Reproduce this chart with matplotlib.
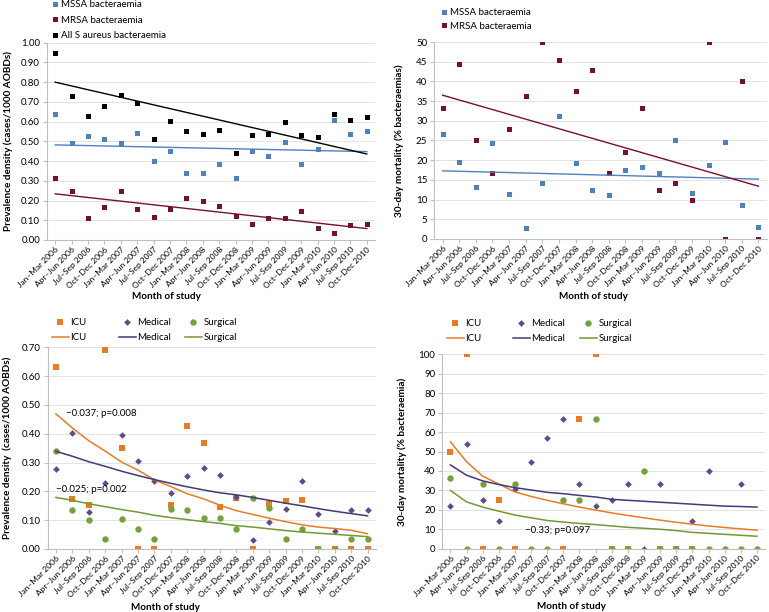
import matplotlib.pyplot as plt
import numpy as np

plt.rcParams['font.family'] = ['Lato', 'DejaVu Sans']

quarters = ['Jan–Mar 2006', 'Apr–Jun 2006', 'Jul–Sep 2006', 'Oct–Dec 2006',
            'Jan–Mar 2007', 'Apr–Jun 2007', 'Jul–Sep 2007', 'Oct–Dec 2007',
            'Jan–Mar 2008', 'Apr–Jun 2008', 'Jul–Sep 2008', 'Oct–Dec 2008',
            'Jan–Mar 2009', 'Apr–Jun 2009', 'Jul–Sep 2009', 'Oct–Dec 2009',
            'Jan–Mar 2010', 'Apr–Jun 2010', 'Jul–Sep 2010', 'Oct–Dec 2010']
x = np.arange(1, len(quarters) + 1)
nan = np.nan

# top left: prevalence density by organism
prev_mssa = [0.64, 0.49, 0.525, 0.51, 0.49, 0.54, 0.40, 0.45, 0.342, 0.339,
             0.386, 0.315, 0.45, 0.425, 0.495, 0.385, 0.463, 0.61, 0.535, 0.55]
prev_mrsa = [0.315, 0.246, 0.112, 0.168, 0.246, 0.158, 0.117, 0.158, 0.212, 0.198,
             0.173, 0.124, 0.083, 0.114, 0.110, 0.149, 0.059, 0.034, 0.076, 0.080]
prev_all = [0.95, 0.73, 0.63, 0.68, 0.735, 0.695, 0.513, 0.605, 0.552, 0.535,
            0.555, 0.442, 0.53, 0.535, 0.60, 0.53, 0.52, 0.64, 0.61, 0.625]
# linear trend lines, value at first and last quarter
trend_prev_mssa = [0.482, 0.448]
trend_prev_mrsa = [0.234, 0.058]
trend_prev_all = [0.80, 0.436]

# top right: 30-day mortality by organism
mort_mssa = [26.7, 19.5, 13.3, 24.4, 11.3, 2.9, 14.3, 31.3, 19.4, 12.5,
             11.2, 17.5, 18.2, 16.7, 25.0, 11.8, 18.8, 24.6, 8.7, 3.0]
mort_mrsa = [33.3, 44.4, 25.0, 16.7, 28.0, 36.4, 50.0, 45.5, 37.5, 42.9,
             16.7, 22.2, 33.3, 12.5, 14.3, 10.0, 50.0, 0.0, 40.0, 0.0]
trend_mort_mssa = [17.3, 15.2]
trend_mort_mrsa = [36.5, 13.4]

# bottom left: prevalence density by ward
prev_icu = [0.633, 0.175, 0.154, 0.69, 0.35, 0, 0, 0.151, 0.427, 0.369,
            0.146, 0.176, 0, 0.156, 0.165, 0.17, 0, 0, 0, 0]
prev_med = [0.279, 0.404, 0.13, 0.229, 0.394, 0.305, 0.236, 0.194, 0.253, 0.282,
            0.256, 0.182, 0.03, 0.094, 0.14, 0.236, 0.122, 0.064, 0.137, 0.134]
prev_surg = [0.34, 0.134, 0.10, 0.033, 0.103, 0.068, 0.034, 0.14, 0.136, 0.108,
             0.108, 0.069, 0.177, 0.143, 0.036, 0.069, 0, 0, 0.036, 0.035]
fit_prev_icu = [0.469, 0.42, 0.376, 0.34, 0.302, 0.274, 0.24, 0.217, 0.192, 0.174,
                0.152, 0.133, 0.12, 0.107, 0.095, 0.084, 0.076, 0.071, 0.065, 0.053]
fit_prev_med = [0.339, 0.322, 0.303, 0.287, 0.27, 0.255, 0.241, 0.228, 0.216, 0.205,
                0.195, 0.188, 0.179, 0.169, 0.159, 0.15, 0.14, 0.131, 0.123, 0.115]
fit_prev_surg = [0.179, 0.169, 0.157, 0.147, 0.137, 0.128, 0.117, 0.109, 0.102, 0.095,
                 0.089, 0.081, 0.076, 0.07, 0.064, 0.059, 0.055, 0.051, 0.047, 0.043]

# bottom right: 30-day mortality by ward
mort_icu = [50, 100, 0, 25, 0, nan, nan, 0, 66.7, 100,
            0, 0, nan, 0, 0, 0, nan, nan, nan, nan]
mort_med = [22.2, 53.8, 25, 14.3, 30.8, 44.4, 57.1, 66.7, 33.3, 22.2,
            25, 33.3, 0, 33.3, 0, 14.3, 40, 0, 33.3, 0]
mort_surg = [36.4, 0, 33.3, 0, 33.3, 0, 0, 25, 25, 66.7,
             0, 0, 40, 0, 0, 0, 0, 0, 0, 0]
fit_mort_icu = [55, 44.8, 37.3, 33.3, 29.2, 26.9, 24.9, 23.1, 21.4, 19.9,
                18.4, 17.1, 15.9, 14.7, 13.6, 12.6, 11.7, 10.9, 10.2, 9.5]
fit_mort_med = [43.1, 37.8, 34.9, 33.0, 31.4, 30.2, 29.0, 28.3, 27.4, 26.6,
                25.4, 24.9, 24.4, 23.9, 23.4, 22.9, 22.4, 21.9, 21.7, 21.4]
fit_mort_surg = [30.0, 24.1, 21.4, 19.3, 17.3, 15.9, 14.5, 13.7, 13.0, 12.4,
                 11.7, 11.0, 10.5, 10.0, 9.3, 8.4, 7.9, 7.4, 6.9, 6.4]

BLUE = '#4f81bd'
MAROON = '#74112f'
ORANGE = '#e87b25'
PURPLE = '#5f4b8b'
GREEN = '#77a03c'
PURPLE_LINE = '#413a7a'
GREEN_LINE = '#6f9a35'

W, H = 769, 612
fig = plt.figure(figsize=(W / 100, H / 100), dpi=100)


def px_axes(left, top, right, bottom):
    return fig.add_axes([left / W, 1 - bottom / H, (right - left) / W, (bottom - top) / H])


def style(ax, ymax, step, fmt, ylabel, ylab_x, xlab_x, xlab_y):
    ax.set_xlim(0.5, 20.5)
    ax.set_ylim(0, ymax)
    ax.set_yticks(np.arange(0, ymax + step / 2, step))
    ax.set_yticklabels([fmt.format(v) for v in np.arange(0, ymax + step / 2, step)])
    ax.set_xticks(x)
    ax.set_xticklabels(quarters, rotation=45, ha='right', rotation_mode='anchor')
    ax.tick_params(axis='x', labelsize=6, length=3, color='#bfbfbf', pad=1)
    ax.tick_params(axis='y', labelsize=7, length=3, color='#bfbfbf', pad=2)
    ax.grid(axis='y', color='#e3e3e3', linewidth=0.7)
    ax.set_axisbelow(True)
    for s in ['top', 'right']:
        ax.spines[s].set_visible(False)
    for s in ['left', 'bottom']:
        ax.spines[s].set_color('#bfbfbf')
        ax.spines[s].set_linewidth(0.8)
    ax.set_ylabel(ylabel, fontsize=7.2, fontweight='bold')
    ax.yaxis.set_label_coords(ylab_x, 0.5)
    ax.set_xlabel('Month of study', fontsize=7.2, fontweight='bold')
    ax.xaxis.set_label_coords(xlab_x, xlab_y)


def pts(ax, y, marker, color, ms):
    return ax.plot(x, y, linestyle='none', marker=marker, color=color,
                   markersize=ms, markeredgewidth=0)[0]


ends = [x[0], x[-1]]

# top left
ax1 = px_axes(47, 42.7, 375, 240)
h_mssa = pts(ax1, prev_mssa, 's', BLUE, 3.6)
h_mrsa = pts(ax1, prev_mrsa, 's', MAROON, 3.6)
h_all = pts(ax1, prev_all, 's', 'black', 3.6)
ax1.plot(ends, trend_prev_mssa, color=BLUE, lw=1)
ax1.plot(ends, trend_prev_mrsa, color=MAROON, lw=1)
ax1.plot(ends, trend_prev_all, color='black', lw=1)
style(ax1, 1.0, 0.1, '{:.2f}', 'Prevalence density (cases/1000 AOBDs)', -0.105, 0.363, -0.265)
fig.legend([h_mssa, h_mrsa, h_all], ['MSSA bacteraemia', 'MRSA bacteraemia', 'All S aureus bacteraemia'],
           loc='upper left', bbox_to_anchor=(52 / W, 1 - 0 / H), frameon=False, fontsize=7,
           handlelength=0.6, handletextpad=0.35, labelspacing=0.68, borderpad=0, borderaxespad=0)

# top right
ax2 = px_axes(434.3, 42, 766.7, 239)
h_mssa2 = pts(ax2, mort_mssa, 's', BLUE, 3.6)
h_mrsa2 = pts(ax2, mort_mrsa, 's', MAROON, 3.6)
ax2.plot(ends, trend_mort_mssa, color=BLUE, lw=1)
ax2.plot(ends, trend_mort_mrsa, color=MAROON, lw=1)
style(ax2, 50, 5, '{:.0f}', '30-day mortality (% bacteraemias)', -0.09, 0.48, -0.27)
fig.legend([h_mssa2, h_mrsa2], ['MSSA bacteraemia', 'MRSA bacteraemia'],
           loc='upper left', bbox_to_anchor=(441 / W, 1 - 8 / H), frameon=False, fontsize=7,
           handlelength=0.6, handletextpad=0.35, labelspacing=0.5, borderpad=0, borderaxespad=0)


def ward_legend(handles, top, xs):
    names = ['ICU', 'Medical', 'Surgical']
    for (hm, hl), name, x0 in zip(handles, names, xs):
        fig.legend([hm, hl], [name, name], loc='upper left', bbox_to_anchor=(x0 / W, 1 - top / H),
                   frameon=False, fontsize=7, handlelength=1.7, handletextpad=0.2,
                   labelspacing=0.62, borderpad=0, borderaxespad=0)


# bottom left
ax3 = px_axes(47.7, 347.3, 375.7, 549)
m_icu = pts(ax3, prev_icu, 's', ORANGE, 3.8)
m_med = pts(ax3, prev_med, 'D', PURPLE, 3.4)
m_surg = pts(ax3, prev_surg, 'o', GREEN, 4.6)
l_icu = ax3.plot(x, fit_prev_icu, color=ORANGE, lw=1.1)[0]
l_med = ax3.plot(x, fit_prev_med, color=PURPLE_LINE, lw=1.1)[0]
l_surg = ax3.plot(x, fit_prev_surg, color=GREEN_LINE, lw=1.1)[0]
style(ax3, 0.70, 0.1, '{:.2f}', 'Prevalence density  (cases/1000 AOBDs)', -0.11, 0.36, -0.27)
ax3.text(1.6, 0.47, '\u22120.037; p=0.008', fontsize=7, va='center')
ax3.text(1.0, 0.205, '\u22120.025; p=0.002', fontsize=7, va='center')
ward_legend([(m_icu, l_icu), (m_med, l_med), (m_surg, l_surg)], 318, [52, 119, 185])

# bottom right
ax4 = px_axes(442.3, 354.3, 765, 548.7)
m_icu4 = pts(ax4, mort_icu, 's', ORANGE, 3.8)
m_med4 = pts(ax4, mort_med, 'D', PURPLE, 3.4)
m_surg4 = pts(ax4, mort_surg, 'o', GREEN, 4.6)
l_icu4 = ax4.plot(x, fit_mort_icu, color=ORANGE, lw=1.1)[0]
l_med4 = ax4.plot(x, fit_mort_med, color=PURPLE_LINE, lw=1.1)[0]
l_surg4 = ax4.plot(x, fit_mort_surg, color=GREEN_LINE, lw=1.1)[0]
style(ax4, 100, 10, '{:.0f}', '30-day mortality (% bacteraemia)', -0.11, 0.40, -0.272)
ax4.text(5.6, 9.5, '\u22120.33; p=0.097', fontsize=7, va='center')
ward_legend([(m_icu4, l_icu4), (m_med4, l_med4), (m_surg4, l_surg4)], 319, [447, 513, 580])

fig.savefig('out.png', dpi=100)
